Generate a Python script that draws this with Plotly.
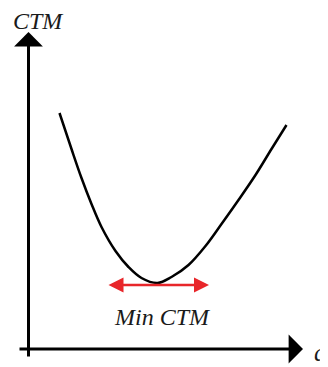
import plotly.graph_objects as go

# curve (q, CTM) in arbitrary units, origin at the axes corner
q_vals = [31, 43, 53, 63, 73, 87, 100, 113, 129, 143, 160, 177, 193, 210, 227, 243, 258]
ctm_vals = [236, 200, 171, 145, 122, 98, 82, 71, 66, 72, 84, 103, 125, 149, 174, 200, 224]

q_min_left, q_min_right, ctm_min_arrow = 78.5, 180.5, 64

fig = go.Figure(
    go.Scatter(
        x=q_vals,
        y=ctm_vals,
        mode='lines',
        line=dict(color='black', width=2.5, shape='spline', smoothing=1),
        hoverinfo='skip',
        showlegend=False,
    )
)

font_it = dict(family='Liberation Serif', color='#1a1a1a')

annotations = [
    # axes
    dict(x=274.5, y=0, ax=-10.5, ay=0, xref='x', yref='y', axref='x', ayref='y',
         text='', showarrow=True, arrowhead=1, arrowsize=1.6, arrowwidth=3, arrowcolor='black'),
    dict(x=0, y=317, ax=0, ay=-9, xref='x', yref='y', axref='x', ayref='y',
         text='', showarrow=True, arrowhead=1, arrowsize=1.6, arrowwidth=3, arrowcolor='black'),
    # red min arrow
    dict(x=q_min_right, y=ctm_min_arrow, ax=q_min_left, ay=ctm_min_arrow,
         xref='x', yref='y', axref='x', ayref='y', text='', showarrow=True,
         arrowhead=2, arrowside='end+start', arrowsize=1.2, arrowwidth=2.5, arrowcolor='#e8262a'),
    # labels
    dict(x=10, y=328, xref='x', yref='y', text='<i>CTM</i>', showarrow=False,
         borderpad=0, font=dict(size=24, **font_it)),
    dict(x=134, y=32, xref='x', yref='y', text='<i>Min CTM</i>', showarrow=False,
         font=dict(size=24, **font_it)),
    dict(x=299, y=-3, xref='x', yref='y', text='<i>q</i>', showarrow=False,
         xanchor='right', borderpad=0, font=dict(size=25, **font_it)),
]

# page body keeps an 8px margin, so the figure is 8px smaller than the window
fig.update_layout(
    width=320,
    height=359,
    margin=dict(l=0, r=0, t=0, b=0),
    paper_bgcolor='white',
    plot_bgcolor='white',
    xaxis=dict(range=[-20.5, 299.5], visible=False, fixedrange=True),
    yaxis=dict(range=[-18, 341], visible=False, fixedrange=True),
    annotations=annotations,
)

fig.write_html("out.html")
